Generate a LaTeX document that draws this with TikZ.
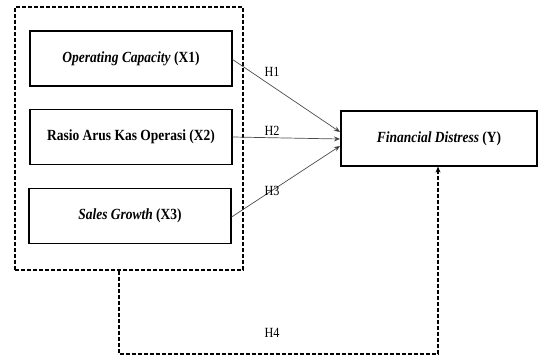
\documentclass[tikz,border=0pt]{standalone}
\usepackage{fontspec}
\setmainfont{Liberation Serif}[FakeStretch=0.87]
\usetikzlibrary{arrows.meta}
\begin{document}
\begin{tikzpicture}[x=1pt,y=-1pt,
  varbox/.style={draw,line width=1.2pt,minimum width=202pt,minimum height=55pt,inner sep=0pt,font=\fontsize{15.5}{17}\selectfont\bfseries},
  dbox/.style={draw,line width=1.3pt,dash pattern=on 4pt off 2pt},
  harrow/.style={draw=black!70,line width=0.7pt,-{Stealth[length=6pt,width=5pt,fill=black]}},
  hlab/.style={font=\fontsize{14}{16}\selectfont,inner sep=0pt}]
\useasboundingbox (0,0) rectangle (540,358);
\node[dbox,minimum width=228pt,minimum height=263pt,inner sep=0pt] (grp) at (129,138.5) {};
\node[varbox] (x1) at (131,58.5) {\textit{Operating Capacity} (X1)};
\node[varbox] (x2) at (131,137) {Rasio Arus Kas Operasi (X2)};
\node[varbox] (x3) at (130,216) {\textit{Sales Growth} (X3)};
\node[varbox,minimum width=196pt] (y) at (439,138.5) {\textit{Financial Distress} (Y)};
\coordinate (t1) at (340,132);
\coordinate (t2) at (340,139);
\coordinate (t3) at (340,146);
\draw[harrow] (x1.east) ++(0,1) -- (t1);
\draw[harrow] (x2.east) -- (t2);
\draw[harrow] (x3.east) ++(0,1) -- (t3);
\node[hlab] (h1) at (272,72) {H1};
\node[hlab] (h2) at (272,131) {H2};
\node[hlab] (h3) at (272,191) {H3};
\node[hlab] (h4) at (272,333) {H4};
\coordinate (c1) at (119,354);
\coordinate (c2) at (438,354);
\draw[line width=1.3pt,dash pattern=on 4pt off 2pt,-{Stealth[length=6pt,width=5pt]}]
  (grp.south -| c1) -- (c1) -- (c2) -- (c2 |- y.south);
\end{tikzpicture}
\end{document}
